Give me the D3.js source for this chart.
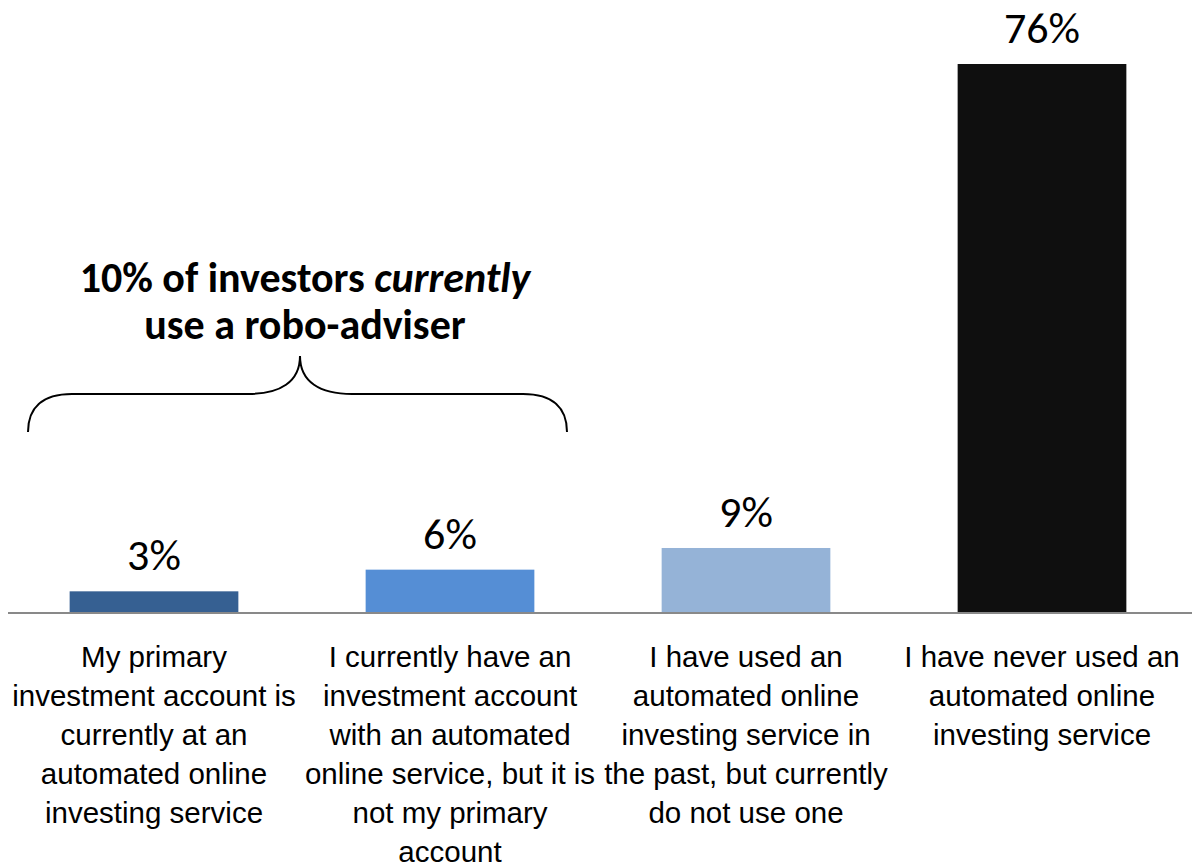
<!DOCTYPE html>
<html>
<head>
<meta charset="utf-8">
<script src="https://cdn.jsdelivr.net/npm/d3@7"></script>
<style>
  body { margin: 0; background: #fff; }
  svg { display: block; font-family: Carlito, Lato, "Open Sans", sans-serif; }
</style>
</head>
<body>
<div id="container"></div>
<script>
/* CONSTANTS AND GLOBALS */
const width = 1192,
  height = 868,
  margin = { top: 64, bottom: 255, left: 6, right: 2 };

// data
const categories = ["primary", "secondary", "past", "never"];
const values = [3, 6, 9, 76];
const valueLabels = ["3%", "6%", "9%", "76%"];
const barColors = ["#366092", "#558ed5", "#95b3d7", "#0f0f0f"];
const tickLines = [
  ["My primary", "investment account is", "currently at an", "automated online", "investing service"],
  ["I currently have an", "investment account", "with an automated", "online service, but it is", "not my primary", "account"],
  ["I have used an", "automated online", "investing service in", "the past, but currently", "do not use one"],
  ["I have never used an", "automated online", "investing service"]
];

const svg = d3.select("#container")
  .append("svg")
  .attr("width", width)
  .attr("height", height);

/* SCALES */
const xScale = d3.scaleBand()
  .domain(categories)
  .range([margin.left, width - margin.right])
  .paddingInner(0.43)
  .paddingOuter(0.215);

const yScale = d3.scaleLinear()
  .domain([0, d3.max(values)])
  .range([height - margin.bottom, margin.top]);

const colorScale = d3.scaleOrdinal(categories, barColors);

const data = categories.map((c, i) => ({ cat: c, value: values[i], label: valueLabels[i], lines: tickLines[i] }));

/* BARS */
svg.selectAll("rect.bar")
  .data(data)
  .join("rect")
  .attr("class", "bar")
  .attr("x", d => xScale(d.cat))
  .attr("y", d => yScale(d.value))
  .attr("width", xScale.bandwidth())
  .attr("height", d => yScale(0) - yScale(d.value))
  .attr("fill", d => colorScale(d.cat));

// value labels
svg.selectAll("text.value")
  .data(data)
  .join("text")
  .attr("class", "value")
  .attr("x", d => xScale(d.cat) + xScale.bandwidth() / 2)
  .attr("y", d => yScale(d.value) - 21)
  .attr("text-anchor", "middle")
  .attr("font-size", 44)
  .attr("fill", "#000")
  .text(d => d.label);

/* X AXIS */
const xAxis = d3.axisBottom(xScale).tickSize(0).tickFormat("");
const gx = svg.append("g")
  .attr("transform", `translate(0, ${yScale(0)})`)
  .call(xAxis);
gx.select(".domain")
  .attr("d", `M8,0H${width}`)
  .attr("stroke", "#898989")
  .attr("stroke-width", 2);

// multi-line category labels
gx.selectAll(".tick text").remove();
gx.selectAll(".tick")
  .append("text")
  .attr("text-anchor", "middle")
  .attr("font-size", 29.5)
  .attr("fill", "#000")
  .each(function(c) {
    const lines = data.find(d => d.cat === c).lines;
    d3.select(this).selectAll("tspan")
      .data(lines)
      .join("tspan")
      .attr("x", 0)
      .attr("y", (l, i) => 54 + i * 39)
      .text(l => l);
  });

/* BRACKET ANNOTATION */
// spans the first two bars
const bx0 = 28,
  bx1 = 567,
  bmid = 300,
  yEnd = 432,
  yFlat = 394,
  yTip = 356;

svg.append("path")
  .attr("d",
    `M${bx0},${yEnd}` +
    `C${bx0},${yFlat + 14} ${bx0 + 14},${yFlat} ${bx0 + 44},${yFlat}` +
    `L${bmid - 52},${yFlat}` +
    `C${bmid - 20},${yFlat} ${bmid},${yFlat - 12} ${bmid},${yTip}` +
    `C${bmid},${yFlat - 12} ${bmid + 20},${yFlat} ${bmid + 52},${yFlat}` +
    `L${bx1 - 44},${yFlat}` +
    `C${bx1 - 14},${yFlat} ${bx1},${yFlat + 14} ${bx1},${yEnd}`)
  .attr("fill", "none")
  .attr("stroke", "#000")
  .attr("stroke-width", 2);

const note = svg.append("text")
  .attr("text-anchor", "middle")
  .attr("font-size", 42)
  .attr("font-weight", "bold")
  .attr("fill", "#000");

note.append("tspan")
  .attr("x", 305)
  .attr("y", 292)
  .text("10% of investors ")
  .append("tspan")
  .attr("font-style", "italic")
  .text("currently");

note.append("tspan")
  .attr("x", 305)
  .attr("y", 339)
  .text("use a robo-adviser");
</script>
</body>
</html>
